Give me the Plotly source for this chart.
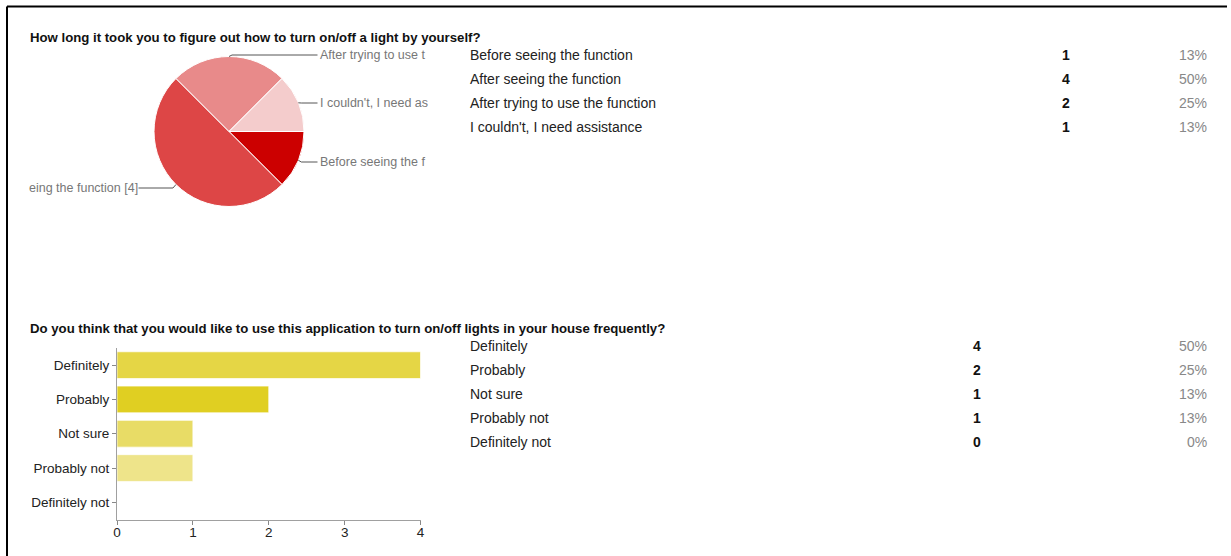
import math
import plotly.graph_objects as go

W, H = 1231, 556

# ---------------- data ----------------
q1_title = "How long it took you to figure out how to turn on/off a light by yourself?"
q1_labels = ["Before seeing the function", "After seeing the function",
             "After trying to use the function", "I couldn't, I need assistance"]
q1_counts = [1, 4, 2, 1]
q1_colors = ["#CC0000", "#DD4646", "#E88A8A", "#F4CCCC"]
# visible (clipped) fragments of the pie's outside labels
q1_pie_text = ["Before seeing the f", "eing the function [4]",
               "After trying to use t", "I couldn't, I need as"]

q2_title = "Do you think that you would like to use this application to turn on/off lights in your house frequently?"
q2_labels = ["Definitely", "Probably", "Not sure", "Probably not", "Definitely not"]
q2_counts = [4, 2, 1, 1, 0]
q2_colors = ["#E5D645", "#E0CF22", "#E8DC66", "#EEE48A", "#F2EAA5"]
q2_ticks = [0, 1, 2, 3, 4]

# small horizontal correction for how the page is photographed
SX, OX = 0.9935, 3.5


def px(x):
    return ((x - OX) / SX) / W


def py(y):
    return 1 - y / H


def pct(c, total):
    return f"{int(c * 100 / total + 0.5)}%"


FONT = "Liberation Sans, Arial, sans-serif"
PAD = 3  # annotation inner padding (px)

fig = go.Figure()

# ---------------- pie ----------------
cx, cy, r = 228.5, 131.5, 75
fig.add_trace(go.Pie(
    labels=q1_labels, values=q1_counts, sort=False, direction="clockwise",
    rotation=90, marker=dict(colors=q1_colors, line=dict(color="white", width=1)),
    textinfo="none", showlegend=False, hoverinfo="label+value+percent",
    domain=dict(x=[px(cx - r), px(cx + r)], y=[py(cy + r), py(cy - r)]),
))

# ---------------- bar ----------------
fig.add_trace(go.Bar(
    y=q2_labels, x=q2_counts, orientation="h",
    marker=dict(color=q2_colors, line=dict(color="rgba(255,255,255,0.7)", width=1)),
    width=0.78, showlegend=False, xaxis="x", yaxis="y",
))

fig.update_layout(
    width=W, height=H, autosize=False, margin=dict(l=0, r=0, t=0, b=0),
    paper_bgcolor="white", plot_bgcolor="white",
    font=dict(family=FONT, size=13, color="#222222"),
    xaxis=dict(domain=[px(116.5), px(420)], range=[0, 4], tickvals=q2_ticks,
               showgrid=False, zeroline=False, showline=True, linecolor="#A0A0A0",
               ticks="outside", ticklen=4, tickcolor="#888888", ticklabelstandoff=-4,
               tickfont=dict(size=13.5, color="#222222"), fixedrange=True),
    yaxis=dict(domain=[py(519.5), py(348)], range=[4.5, -0.5],
               categoryorder="array", categoryarray=q2_labels,
               showgrid=False, zeroline=False, showline=True, linecolor="#A0A0A0",
               ticks="outside", ticklen=4, tickcolor="#888888",
               tickfont=dict(size=13.5, color="#222222"), fixedrange=True),
    bargap=0.2,
)

ann = []
shapes = []

# border
shapes.append(dict(type="line", xref="paper", yref="paper", x0=px(6.5), x1=1.0,
                   y0=py(6.5), y1=py(6.5), line=dict(color="black", width=2)))
shapes.append(dict(type="line", xref="paper", yref="paper", x0=px(6.5), x1=px(6.5),
                   y0=py(6.5), y1=0, line=dict(color="black", width=2)))

# titles
ann.append(dict(text=f"<b>{q1_title}</b>", x=px(30 - PAD), y=py(37), xanchor="left",
                yanchor="middle", font=dict(size=13.2, color="#111111")))
ann.append(dict(text=f"<b>{q2_title}</b>", x=px(30 - PAD), y=py(328), xanchor="left",
                yanchor="middle", font=dict(size=13.2, color="#111111")))

# pie leader lines and labels
total1 = sum(q1_counts)
label_y = [162, 188, 55, 103]
start = 0.0
for i, c in enumerate(q1_counts):
    mid = start + c / total1 * 180.0  # degrees clockwise from east
    start += c / total1 * 360.0
    a = math.radians(mid)
    ex, ey = cx + r * math.cos(a), cy + r * math.sin(a)
    right = math.cos(a) >= -1e-9
    ly = label_y[i]
    ox = ex + (3 if right else -3)
    tx = 317 if right else 138
    path = f"M {px(ex)},{py(ey)} L {px(ox)},{py(ly)} L {px(tx)},{py(ly)}"
    shapes.append(dict(type="path", xref="paper", yref="paper", path=path,
                       line=dict(color="#555555", width=1)))
    lx = (320 - PAD) if right else (136 + PAD)
    ann.append(dict(text=q1_pie_text[i], x=px(lx), y=py(ly),
                    xanchor="left" if right else "right", yanchor="middle",
                    font=dict(size=12.5, color="#777777")))

# tables
def table(labels, counts, y0, count_x):
    tot = sum(counts)
    for i, (lab, c) in enumerate(zip(labels, counts)):
        y = y0 + 24 * i
        ann.append(dict(text=lab, x=px(470 - PAD), y=py(y), xanchor="left",
                        yanchor="middle", font=dict(size=14, color="#222222")))
        ann.append(dict(text=f"<b>{c}</b>", x=px(count_x), y=py(y), xanchor="center",
                        yanchor="middle", font=dict(size=14, color="#111111")))
        ann.append(dict(text=pct(c, tot), x=px(1205 + PAD), y=py(y), xanchor="right",
                        yanchor="middle", font=dict(size=14, color="#888888")))


table(q1_labels, q1_counts, 55, 1065)
table(q2_labels, q2_counts, 346, 976)

for a in ann:
    a.update(xref="paper", yref="paper", showarrow=False)

fig.update_layout(annotations=ann, shapes=shapes)
fig.write_html(
    "out.html",
    config=dict(displayModeBar=False, responsive=False),
    post_script=(
        "var de=document.documentElement;de.style.margin='0';de.style.padding='0';"
        "de.style.overflow='hidden';"
        "var b=document.body;b.style.margin='0';b.style.padding='0';"
        "b.style.overflow='hidden';"
    ),
)
